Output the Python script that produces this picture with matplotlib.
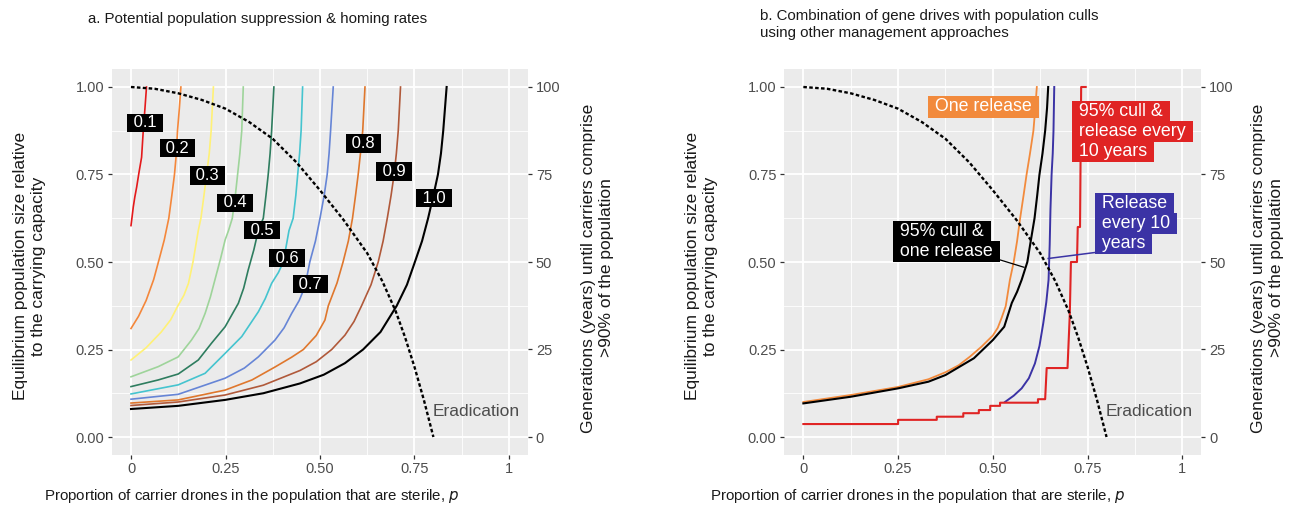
import matplotlib
matplotlib.use("Agg")
import matplotlib.pyplot as plt

plt.rcParams['font.family'] = ['Liberation Sans', 'DejaVu Sans']

# ---------------- data: panel a (homing rate curves) ----------------
homing_labels = ["0.1", "0.2", "0.3", "0.4", "0.5", "0.6", "0.7", "0.8", "0.9", "1.0"]
homing_colors = ["#E41A1C", "#F4873B", "#FFF176", "#9ED49A", "#2E7D5F",
                 "#45C4CF", "#6685D6", "#DF772D", "#B0593A", "#000000"]
h01_x = [0.0, 0.003, 0.006, 0.010, 0.015, 0.021, 0.028, 0.033, 0.037, 0.041]
h01_y = [0.604, 0.630, 0.657, 0.685, 0.714, 0.755, 0.799, 0.885, 0.94, 1.0]
h02_x = [0.0, 0.02, 0.04, 0.06, 0.075, 0.088, 0.10, 0.108, 0.115, 0.120, 0.123, 0.128, 0.132]
h02_y = [0.31, 0.345, 0.39, 0.45, 0.51, 0.563, 0.625, 0.69, 0.75, 0.81, 0.875, 0.94, 1.0]
h03_x = [0.0, 0.04, 0.08, 0.105, 0.124, 0.140, 0.152, 0.164, 0.178, 0.185, 0.193, 0.20, 0.207, 0.212, 0.218]
h03_y = [0.22, 0.255, 0.30, 0.335, 0.375, 0.405, 0.439, 0.50, 0.59, 0.625, 0.69, 0.75, 0.81, 0.875, 1.0]
h04_x = [0.0, 0.072, 0.125, 0.16, 0.18, 0.196, 0.21, 0.222, 0.237, 0.249, 0.258, 0.268, 0.276, 0.282, 0.288, 0.293, 0.297]
h04_y = [0.172, 0.201, 0.229, 0.277, 0.31, 0.353, 0.40, 0.449, 0.51, 0.563, 0.59, 0.625, 0.69, 0.75, 0.81, 0.875, 1.0]
h05_x = [0.0, 0.072, 0.125, 0.178, 0.213, 0.249, 0.284, 0.298, 0.31, 0.325, 0.337, 0.35, 0.357, 0.363, 0.368, 0.372, 0.378]
h05_y = [0.144, 0.163, 0.18, 0.22, 0.268, 0.315, 0.382, 0.425, 0.477, 0.535, 0.591, 0.625, 0.69, 0.75, 0.81, 0.875, 1.0]
h06_x = [0.0, 0.125, 0.196, 0.249, 0.293, 0.337, 0.355, 0.372, 0.39, 0.403, 0.418, 0.429, 0.436, 0.441, 0.446, 0.45, 0.454]
h06_y = [0.123, 0.149, 0.182, 0.239, 0.287, 0.358, 0.395, 0.439, 0.47, 0.50, 0.59, 0.625, 0.69, 0.75, 0.81, 0.875, 1.0]
h07_x = [0.0, 0.125, 0.249, 0.30, 0.337, 0.381, 0.405, 0.425, 0.445, 0.46, 0.473, 0.488, 0.50, 0.511, 0.519, 0.524, 0.528, 0.535]
h07_y = [0.108, 0.122, 0.168, 0.197, 0.229, 0.277, 0.312, 0.353, 0.39, 0.429, 0.50, 0.56, 0.625, 0.69, 0.75, 0.81, 0.875, 1.0]
h08_x = [0.0, 0.125, 0.249, 0.32, 0.381, 0.425, 0.456, 0.49, 0.513, 0.522, 0.545, 0.561, 0.575, 0.586, 0.594, 0.601, 0.607, 0.613, 0.619]
h08_y = [0.097, 0.106, 0.134, 0.163, 0.20, 0.228, 0.25, 0.29, 0.334, 0.375, 0.44, 0.50, 0.56, 0.625, 0.69, 0.75, 0.81, 0.875, 1.0]
h09_x = [0.0, 0.125, 0.249, 0.35, 0.447, 0.49, 0.531, 0.566, 0.59, 0.61, 0.635, 0.654, 0.667, 0.678, 0.688, 0.696, 0.702, 0.707, 0.713]
h09_y = [0.09, 0.10, 0.12, 0.148, 0.19, 0.215, 0.25, 0.291, 0.33, 0.375, 0.435, 0.50, 0.56, 0.625, 0.69, 0.75, 0.81, 0.875, 1.0]
h10_x = [0.0, 0.125, 0.249, 0.35, 0.447, 0.51, 0.566, 0.614, 0.66, 0.703, 0.73, 0.751, 0.77, 0.786, 0.80, 0.812, 0.82, 0.826, 0.835]
h10_y = [0.08, 0.089, 0.106, 0.125, 0.153, 0.178, 0.211, 0.25, 0.30, 0.375, 0.435, 0.50, 0.56, 0.625, 0.69, 0.75, 0.81, 0.875, 1.0]
homing_x = [h01_x, h02_x, h03_x, h04_x, h05_x, h06_x, h07_x, h08_x, h09_x, h10_x]
homing_y = [h01_y, h02_y, h03_y, h04_y, h05_y, h06_y, h07_y, h08_y, h09_y, h10_y]
label_x = [0.037, 0.123, 0.202, 0.275, 0.346, 0.412, 0.475, 0.615, 0.696, 0.802]
label_y = [0.898, 0.825, 0.747, 0.669, 0.591, 0.511, 0.437, 0.839, 0.759, 0.682]

# eradication boundary (dashed)
erad_x = [0.0, 0.0625, 0.125, 0.1875, 0.25, 0.3125, 0.375, 0.4375, 0.5, 0.5625, 0.625, 0.665, 0.7, 0.725, 0.75, 0.775, 0.8]
erad_y = [1.0, 0.995, 0.982, 0.963, 0.938, 0.90, 0.852, 0.785, 0.705, 0.62, 0.525, 0.445, 0.36, 0.285, 0.20, 0.105, 0.0]

# ---------------- data: panel b (management combinations) ----------------
one_rel_x = [0.0, 0.125, 0.25, 0.33, 0.375, 0.41, 0.44, 0.47, 0.5, 0.513, 0.523, 0.534, 0.545, 0.555, 0.564, 0.572, 0.581, 0.589, 0.598, 0.607, 0.612, 0.616]
one_rel_y = [0.10, 0.12, 0.143, 0.165, 0.185, 0.205, 0.23, 0.258, 0.29, 0.312, 0.34, 0.374, 0.449, 0.50, 0.56, 0.625, 0.69, 0.75, 0.81, 0.875, 0.94, 1.0]
cull_one_x = [0.0, 0.125, 0.25, 0.33, 0.375, 0.45, 0.5, 0.53, 0.55, 0.564, 0.576, 0.591, 0.60, 0.61, 0.617, 0.623, 0.631, 0.638, 0.643, 0.646]
cull_one_y = [0.096, 0.115, 0.139, 0.158, 0.177, 0.225, 0.277, 0.315, 0.383, 0.415, 0.449, 0.50, 0.56, 0.625, 0.69, 0.75, 0.81, 0.875, 0.94, 1.0]
rel10_x = [0.532, 0.555, 0.576, 0.595, 0.611, 0.623, 0.633, 0.641, 0.647, 0.650, 0.652, 0.655, 0.658, 0.660, 0.662]
rel10_y = [0.10, 0.118, 0.139, 0.168, 0.21, 0.26, 0.325, 0.385, 0.449, 0.55, 0.65, 0.75, 0.81, 0.875, 1.0]
cull10_x = [0.0, 0.25, 0.25, 0.352, 0.352, 0.422, 0.422, 0.463, 0.463, 0.493, 0.493, 0.519, 0.519,
            0.619, 0.619, 0.638, 0.642, 0.697, 0.703, 0.706, 0.722, 0.724, 0.730, 0.733, 0.745]
cull10_y = [0.037, 0.037, 0.049, 0.049, 0.058, 0.058, 0.068, 0.068, 0.077, 0.077, 0.089, 0.089, 0.098,
            0.098, 0.108, 0.108, 0.197, 0.197, 0.35, 0.50, 0.50, 0.60, 0.60, 1.0, 1.0]
b_colors = {"one": "#F28A3C", "cull_one": "#000000", "rel10": "#3B33A5", "cull10": "#E02424"}

xticks = [0, 0.25, 0.5, 0.75, 1]
xticklabels = ["0", "0.25", "0.50", "0.75", "1"]
yticks = [0, 0.25, 0.5, 0.75, 1]
yticklabels = ["0.00", "0.25", "0.50", "0.75", "1.00"]
y2ticklabels = ["0", "25", "50", "75", "100"]
minor_ticks = [0.125, 0.375, 0.625, 0.875]

W, H = 1306, 511
fig = plt.figure(figsize=(W / 100, H / 100), dpi=100)

TICKC = "#333333"
LABC = "#4D4D4D"


def style_axes(ax):
    ax.set_xlim(-0.05, 1.05)
    ax.set_ylim(-0.05, 1.05)
    ax.set_facecolor("#EBEBEB")
    for s in ax.spines.values():
        s.set_visible(False)
    for m in minor_ticks:
        ax.axvline(m, color="white", lw=0.6, zorder=0.5)
        ax.axhline(m, color="white", lw=0.6, zorder=0.5)
    for t in xticks:
        ax.axvline(t, color="white", lw=1.3, zorder=0.6)
    for t in yticks:
        ax.axhline(t, color="white", lw=1.3, zorder=0.6)
    ax.set_xticks(xticks)
    ax.set_xticklabels(xticklabels)
    ax.set_yticks(yticks)
    ax.set_yticklabels(yticklabels)
    ax.tick_params(length=3.2, width=0.9, color=TICKC, labelcolor=LABC,
                   labelsize=10.5, pad=2.5)
    ax2 = ax.twinx()
    ax2.set_ylim(-0.05, 1.05)
    for s in ax2.spines.values():
        s.set_visible(False)
    ax2.set_yticks(yticks)
    ax2.set_yticklabels(y2ticklabels)
    ax2.tick_params(length=3.2, width=0.9, color=TICKC, labelcolor=LABC,
                    labelsize=10.5, pad=2.5)
    return ax2


axa = fig.add_axes([112.1 / W, 1 - 454.5 / H, 415.8 / W, 385 / H])
style_axes(axa)
axb = fig.add_axes([784.4 / W, 1 - 454.5 / H, 416.9 / W, 385 / H])
style_axes(axb)

# ---- panel a ----
for xs, ys, c, lab in zip(homing_x, homing_y, homing_colors, homing_labels):
    lw = 1.5 if c == "#000000" else 1.2
    axa.plot(xs, ys, color=c, lw=lw, zorder=3, solid_joinstyle="round")
axa.plot(erad_x, erad_y, color="black", lw=1.7, ls=(0, (1.5, 1.0)), zorder=4)
for lx, ly, lab in zip(label_x, label_y, homing_labels):
    axa.text(lx, ly, " " + lab + " ", color="white", fontsize=12, ha="center", va="center",
             zorder=6, bbox=dict(boxstyle="square,pad=0.1", fc="black", ec="none"))
axa.text(0.797, 0.074, "Eradication", color=LABC, fontsize=12.5, ha="left", va="center", zorder=5)

# ---- panel b ----
axb.plot(one_rel_x, one_rel_y, color=b_colors["one"], lw=1.3, zorder=3)
axb.plot(cull_one_x, cull_one_y, color=b_colors["cull_one"], lw=1.5, zorder=3.2)
axb.plot(rel10_x, rel10_y, color=b_colors["rel10"], lw=1.4, zorder=3.1)
axb.plot(cull10_x, cull10_y, color=b_colors["cull10"], lw=1.5, zorder=3.3)
axb.plot(erad_x, erad_y, color="black", lw=1.7, ls=(0, (1.5, 1.0)), zorder=4)
axb.text(0.797, 0.074, "Eradication", color=LABC, fontsize=12.5, ha="left", va="center", zorder=5)

# connectors
axb.plot([0.519, 0.582], [0.506, 0.485], color="black", lw=0.9, zorder=4.5)
axb.plot([0.783, 0.646], [0.529, 0.510], color=b_colors["rel10"], lw=1.1, zorder=4.5)


def line_labels(ax, x, ys, lines, color, fs=12.8):
    for y, t in zip(ys, lines):
        ax.text(x, y, " " + t + " ", color=color, fontsize=fs, ha="left", va="center", zorder=6,
                bbox=dict(boxstyle="square,pad=0.12", fc=color, ec="none"))
    for y, t in zip(ys, lines):
        ax.text(x, y, " " + t + " ", color="white", fontsize=fs, ha="left", va="center", zorder=7)


line_labels(axb, 0.334, [0.943], ["One release"], b_colors["one"])
line_labels(axb, 0.714, [0.929, 0.872, 0.815], ["95% cull &", "release every", "10 years"], b_colors["cull10"])
line_labels(axb, 0.774, [0.666, 0.611, 0.554], ["Release", "every 10", "years"], b_colors["rel10"])
line_labels(axb, 0.243, [0.587, 0.529], ["95% cull &", "one release"], "#000000")

# ---- titles & axis titles ----
fig.text(88 / W, 1 - 19 / H, "a. Potential population suppression & homing rates",
         fontsize=10.8, ha="left", va="center", color="#1A1A1A")
fig.text(760 / W, 1 - 9 / H, "b. Combination of gene drives with population culls\nusing other management approaches",
         fontsize=10.8, ha="left", va="top", color="#1A1A1A", linespacing=1.3)

xlab = "Proportion of carrier drones in the population that are sterile, $\\mathit{p}$"
fig.text(252 / W, 1 - 496 / H, xlab, fontsize=10.8, ha="center", va="center", color="#1A1A1A")
fig.text(918 / W, 1 - 496 / H, xlab, fontsize=10.8, ha="center", va="center", color="#1A1A1A")

ylab = "Equilibrium population size relative\nto the carrying capacity"
y2lab = "Generations (years) until carriers comprise\n>90% of the population"
for xc in (30, 702):
    fig.text(xc / W, 1 - 266 / H, ylab, rotation=90, fontsize=12.5, ha="center", va="center",
             multialignment="center", linespacing=1.25, color="#1A1A1A")
for xc in (597, 1268):
    fig.text(xc / W, 1 - 268 / H, y2lab, rotation=90, fontsize=12.5, ha="center", va="center",
             multialignment="center", linespacing=1.25, color="#1A1A1A")

fig.savefig("out.png", dpi=100)
